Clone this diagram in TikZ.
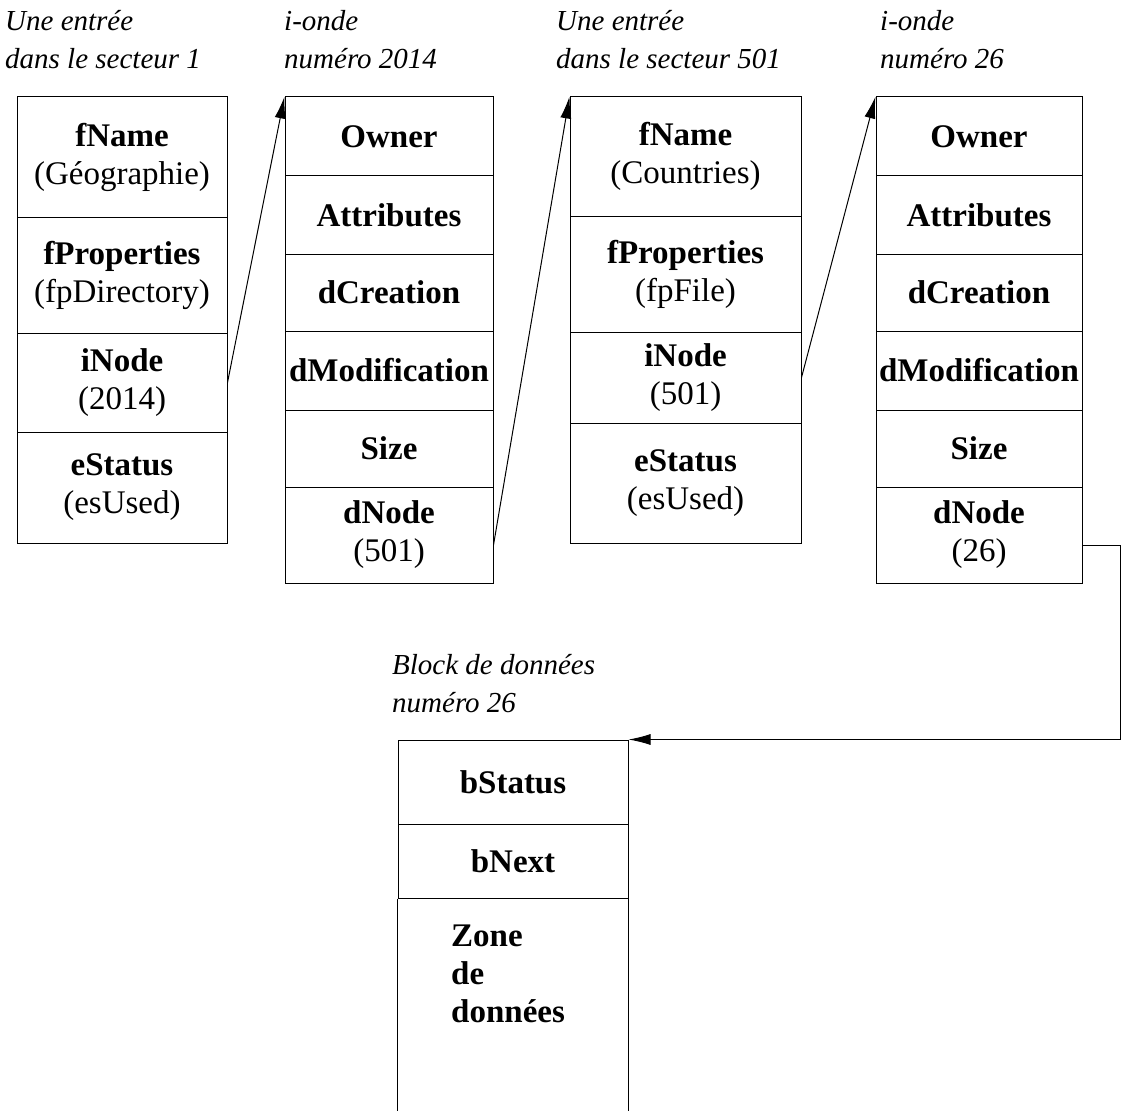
\documentclass[tikz,border=0pt]{standalone}
\usepackage{fontspec}
\setmainfont{Liberation Serif}
\usetikzlibrary{arrows.meta, positioning}

\begin{document}
\begin{tikzpicture}[x=1pt, y=-1pt,
    cell/.style={draw, line width=1pt, inner sep=0pt, align=center, font=\fontsize{33}{38}\selectfont},
    titre/.style={anchor=north west, inner sep=0pt, align=left, font=\fontsize{29}{38}\selectfont\itshape},
    fleche/.style={-{Latex[length=22pt, width=11pt]}, line width=1pt}]
        \useasboundingbox (0,0) rectangle (1123,1110);

        % Titres
        \node[titre] (t1) at (5,10) {Une entrée\\dans le secteur 1};
        \node[titre] (t2) at (284,10) {i-onde\\numéro 2014};
        \node[titre] (t3) at (556,10) {Une entrée\\dans le secteur 501};
        \node[titre] (t4) at (880,10) {i-onde\\numéro 26};
        \node[titre] (t5) at (392,654) {Block de données\\numéro 26};

        % 1. Entrées de répertoire (secteurs 1 et 501)
        \foreach \bx/\cx/\w/\nm/\pr/\ino/\ya/\yb/\yc in {e1/122/210/Géographie/fpDirectory/2014/217/333/432, e2/685.5/231/Countries/fpFile/501/216/332/423} {
            \node[cell, minimum width=\w, minimum height=\ya-97] (\bx-a) at (\cx, {(97+\ya)/2}) {\textbf{fName}\\(\nm)};
            \node[cell, minimum width=\w, minimum height=\yb-\ya] (\bx-b) at (\cx, {(\ya+\yb)/2}) {\textbf{fProperties}\\(\pr)};
            \node[cell, minimum width=\w, minimum height=\yc-\yb] (\bx-c) at (\cx, {(\yb+\yc)/2}) {\textbf{iNode}\\(\ino)};
            \node[cell, minimum width=\w, minimum height=543-\yc] (\bx-d) at (\cx, {(\yc+543)/2}) {\textbf{eStatus}\\(esUsed)};
        }

        % 2. Les i-ondes 2014 et 26
        \foreach \bx/\cx/\w/\dn in {n1/389/208/501, n2/979/206/26} {
            \foreach \nom/\lab/\ya/\yb in {a/Owner/97/176, b/Attributes/176/254, c/dCreation/254/331, d/dModification/331/410, e/Size/410/487} {
                \node[cell, minimum width=\w, minimum height=\yb-\ya] (\bx-\nom) at (\cx, {(\ya+\yb)/2}) {\textbf{\lab}};
            }
            \node[cell, minimum width=\w, minimum height=96] (\bx-f) at (\cx, 535) {\textbf{dNode}\\(\dn)};
        }

        % 3. Block de données 26 (ouvert en bas)
        \node[cell, minimum width=230, minimum height=84] (b-a) at (513, 782) {\textbf{bStatus}};
        \node[cell, minimum width=230, minimum height=74] (b-b) at (513, 861) {\textbf{bNext}};
        \draw[line width=1pt] (b-b.south west) -- ++(0,212) (b-b.south east) -- ++(0,212);
        \node[anchor=north west, inner sep=0pt, align=left, font=\fontsize{33}{38}\selectfont\bfseries] (b-c) at (451, 925) {Zone\\de\\données};

        % 4. Les liens
        \draw[fleche] (e1-c.east) -- (n1-a.north west);
        \draw[fleche] ([yshift=-10pt]n1-f.east) -- (e2-a.north west);
        \draw[fleche] (e2-c.east) -- (n2-a.north west);
        \draw[fleche] ([yshift=-10pt]n2-f.east) -- ++(38,0) |- (b-a.north east);

    \end{tikzpicture}
\end{document}
